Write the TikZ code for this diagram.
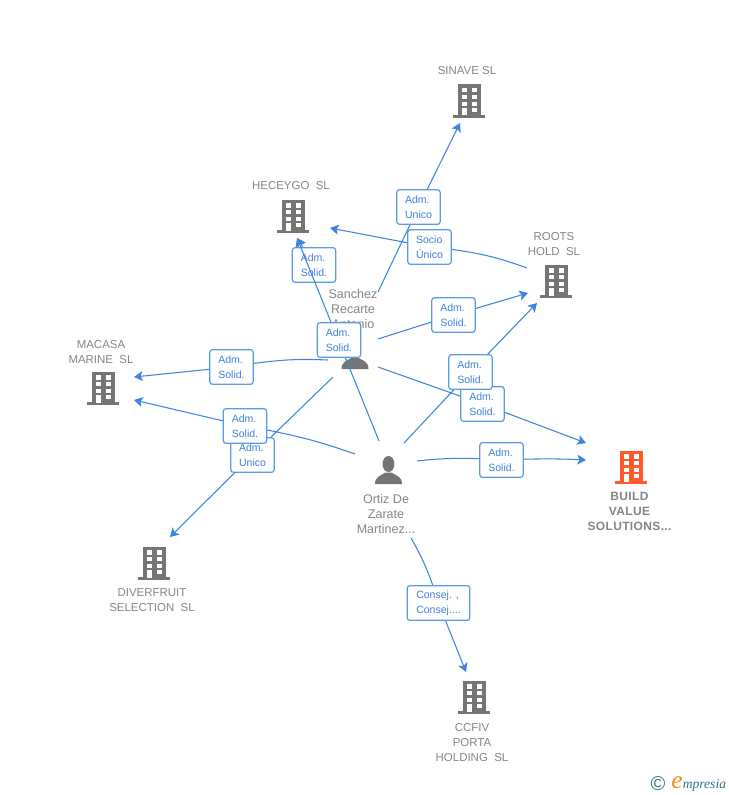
\documentclass[tikz,border=0pt]{standalone}
\usepackage{fontspec}
\setmainfont{Liberation Sans}
\newfontfamily\logofont{Liberation Serif}
\usetikzlibrary{arrows.meta}
\definecolor{linkblue}{HTML}{3D85DE}
\definecolor{tagblue}{HTML}{5C9AE6}
\definecolor{tagtext}{HTML}{3F80DA}
\definecolor{iconcol}{HTML}{757575}
\definecolor{labcol}{HTML}{858585}
\definecolor{mainred}{HTML}{FF5A2B}
\definecolor{logoteal}{HTML}{2F7285}
\definecolor{logoorange}{HTML}{F58A1F}
\tikzset{
  link/.style={draw=linkblue, line width=0.8pt},
  tag/.style={draw=tagblue, fill=white, rounded corners=2pt, line width=0.9pt, minimum width=32.5pt,
    minimum height=26pt, inner sep=0pt, align=left, text=tagtext, font=\fontsize{7.9}{11.2}\selectfont},
  lab/.style={align=center, inner sep=0pt, yshift=-0.6pt, text=labcol, font=\fontsize{8.6}{11.25}\selectfont},
  building/.pic={
    \fill[pic actions] (-11.5,-16.5) rectangle (11.5,14.5);
    \fill[pic actions] (-16,14.3) rectangle (16,17);
    \foreach \wy in {-12.7,-6,0.7} {
      \fill[white] (-7.3,\wy) rectangle ++(5,4.2);
      \fill[white] (2.7,\wy) rectangle ++(5,4.2);
    }
    \fill[white] (-7.3,7.3) rectangle (-2.3,14.5);
    \fill[white] (2.7,7.3) rectangle (7.7,11.3);
  },
  person/.pic={
    \fill[iconcol] (0,-7) ellipse (6 and 8);
    \fill[iconcol] (-13.5,13) .. controls (-13.5,5) and (-7,4.5) .. (-3,1.5) -- (3,1.5)
      .. controls (7,4.5) and (13.5,5) .. (13.5,13) -- cycle;
  }
}
\begin{document}
\begin{tikzpicture}
  [x=0.75pt, y=-0.75pt, >={Stealth[length=6.5pt,width=7.5pt,inset=1.5pt]}]
  \useasboundingbox (0,0) rectangle (728,795);
  % companies
  \pic[fill=iconcol] at (469,101) {building};
  \pic[fill=iconcol] at (293,216) {building};
  \pic[fill=iconcol] at (556,281) {building};
  \pic[fill=iconcol] at (103,388) {building};
  \pic[fill=iconcol] at (154,563) {building};
  \pic[fill=iconcol] at (474,697) {building};
  \pic[fill=mainred] at (631,467) {building};
  \node[lab] (sinave) at (467,70) {SINAVE SL};
  \node[lab] (heceygo) at (291,185) {HECEYGO\ \ SL};
  \node[lab] (roots) at (554,243) {ROOTS\\HOLD\ \ SL};
  \node[lab] (macasa) at (101,351) {MACASA\\MARINE\ \ SL};
  \node[lab] (diverfruit) at (152,599) {DIVERFRUIT\\SELECTION\ \ SL};
  \node[lab] (ccfiv) at (472,742) {CCFIV\\PORTA\\HOLDING\ \ SL};
  \node[lab, font=\fontsize{9}{11.25}\bfseries\addfontfeature{LetterSpace=3}] (build) at (629.5,511) {BUILD\\VALUE\\SOLUTIONS...};
  % people
  \pic at (355,356) {person};
  \pic at (388.5,471) {person};
  \node[lab, font=\fontsize{9.4}{11.25}\selectfont] (sanchez) at (353,308) {Sanchez\\Recarte\\Antonio};
  \node[lab, font=\fontsize{9.4}{11.25}\selectfont] (ortiz) at (386,513) {Ortiz De\\Zarate\\Martinez...};
  % free ends of the connectors
  \coordinate (sSinave) at (378,292);
  \coordinate (sHeceygo) at (327,283);
  \coordinate (sRoots) at (378,339);
  \coordinate (sMacasa) at (328,360);
  \coordinate (sDiver) at (333,377);
  \coordinate (sBuild) at (378,367);
  \coordinate (oHeceygo) at (379,441);
  \coordinate (oRoots) at (404,443);
  \coordinate (oMacasa) at (355,454);
  \coordinate (oBuild) at (417,461);
  \coordinate (oCcfiv) at (411,538);
  \coordinate (rHeceygo) at (527,268);
  \coordinate (toSinave) at (460,123);
  \coordinate (toHecA) at (330,228);
  \coordinate (toHecB) at (297,238);
  \coordinate (toRootsA) at (528,293);
  \coordinate (toRootsB) at (537,303);
  \coordinate (toMacA) at (134,377);
  \coordinate (toMacB) at (134,400);
  \coordinate (toDiver) at (170,537);
  \coordinate (toBuildA) at (586,443);
  \coordinate (toBuildB) at (586,460);
  \coordinate (toCcfiv) at (466,672);
  % tags and connectors, in stacking order
  \node[tag] (tagUnicoA) at (418.5,207) {Adm.\\Unico};
  \draw[link] (sSinave) -- (tagUnicoA);
  \draw[link,->] (tagUnicoA) -- (toSinave);
  \node[tag] (tagSocio) at (429.5,247) {Socio\\Único};
  \draw[link] (rHeceygo) to[bend right=6] (tagSocio);
  \draw[link,->] (tagSocio) -- (toHecA);
  \node[tag] (tagHecA) at (314,265) {Adm.\\Solid.};
  \draw[link] (sHeceygo) -- (tagHecA);
  \draw[link,->] (tagHecA) -- (toHecB);
  \node[tag] (tagRootsA) at (453.5,315) {Adm.\\Solid.};
  \draw[link] (sRoots) -- (tagRootsA);
  \draw[link,->] (tagRootsA) -- (toRootsA);
  \draw[link,->] (oHeceygo) -- (toHecB);
  \node[tag] (tagHecB) at (339,340) {Adm.\\Solid.};
  \node[tag] (tagBuildA) at (482.5,404) {Adm.\\Solid.};
  \draw[link] (sBuild) -- (tagBuildA);
  \draw[link,->] (tagBuildA) -- (toBuildA);
  \node[tag] (tagRootsB) at (470.5,372) {Adm.\\Solid.};
  \draw[link] (oRoots) -- (tagRootsB);
  \draw[link,->] (tagRootsB) -- (toRootsB);
  \node[tag] (tagBuildB) at (501.5,460) {Adm.\\Solid.};
  \draw[link] (oBuild) to[bend left=4] (tagBuildB);
  \draw[link,->] (tagBuildB) to[bend left=2] (toBuildB);
  \node[tag] (tagMacA) at (231.5,367) {Adm.\\Solid.};
  \draw[link] (sMacasa) to[bend right=5] (tagMacA);
  \draw[link,->] (tagMacA) -- (toMacA);
  \node[tag] (tagUnicoB) at (252.5,455) {Adm.\\Unico};
  \draw[link] (sDiver) -- (tagUnicoB);
  \draw[link,->] (tagUnicoB) -- (toDiver);
  \node[tag] (tagMacB) at (245,426) {Adm.\\Solid.};
  \draw[link] (oMacasa) to[bend right=4] (tagMacB);
  \draw[link,->] (tagMacB) -- (toMacB);
  \node[tag, minimum width=47pt] (tagCcfiv) at (438.5,603) {Consej. ,\\Consej....};
  \draw[link] (oCcfiv) to[bend left=5] (tagCcfiv);
  \draw[link,->] (tagCcfiv) -- (toCcfiv);
  % logo
  \node[inner sep=0pt, text=logoteal, font=\fontsize{15}{15}\selectfont] (logoC) at (658,784) {©};
  \node[inner sep=0pt, text=logoorange, font=\logofont\itshape\fontsize{19}{19}\selectfont] (logoE) at (677,783) {e};
  \node[inner sep=0pt, anchor=base west, text=logoteal, font=\logofont\itshape\fontsize{10.2}{10.2}\selectfont] (logoT) at (682.5,788) {mpresia};
\end{tikzpicture}
\end{document}
